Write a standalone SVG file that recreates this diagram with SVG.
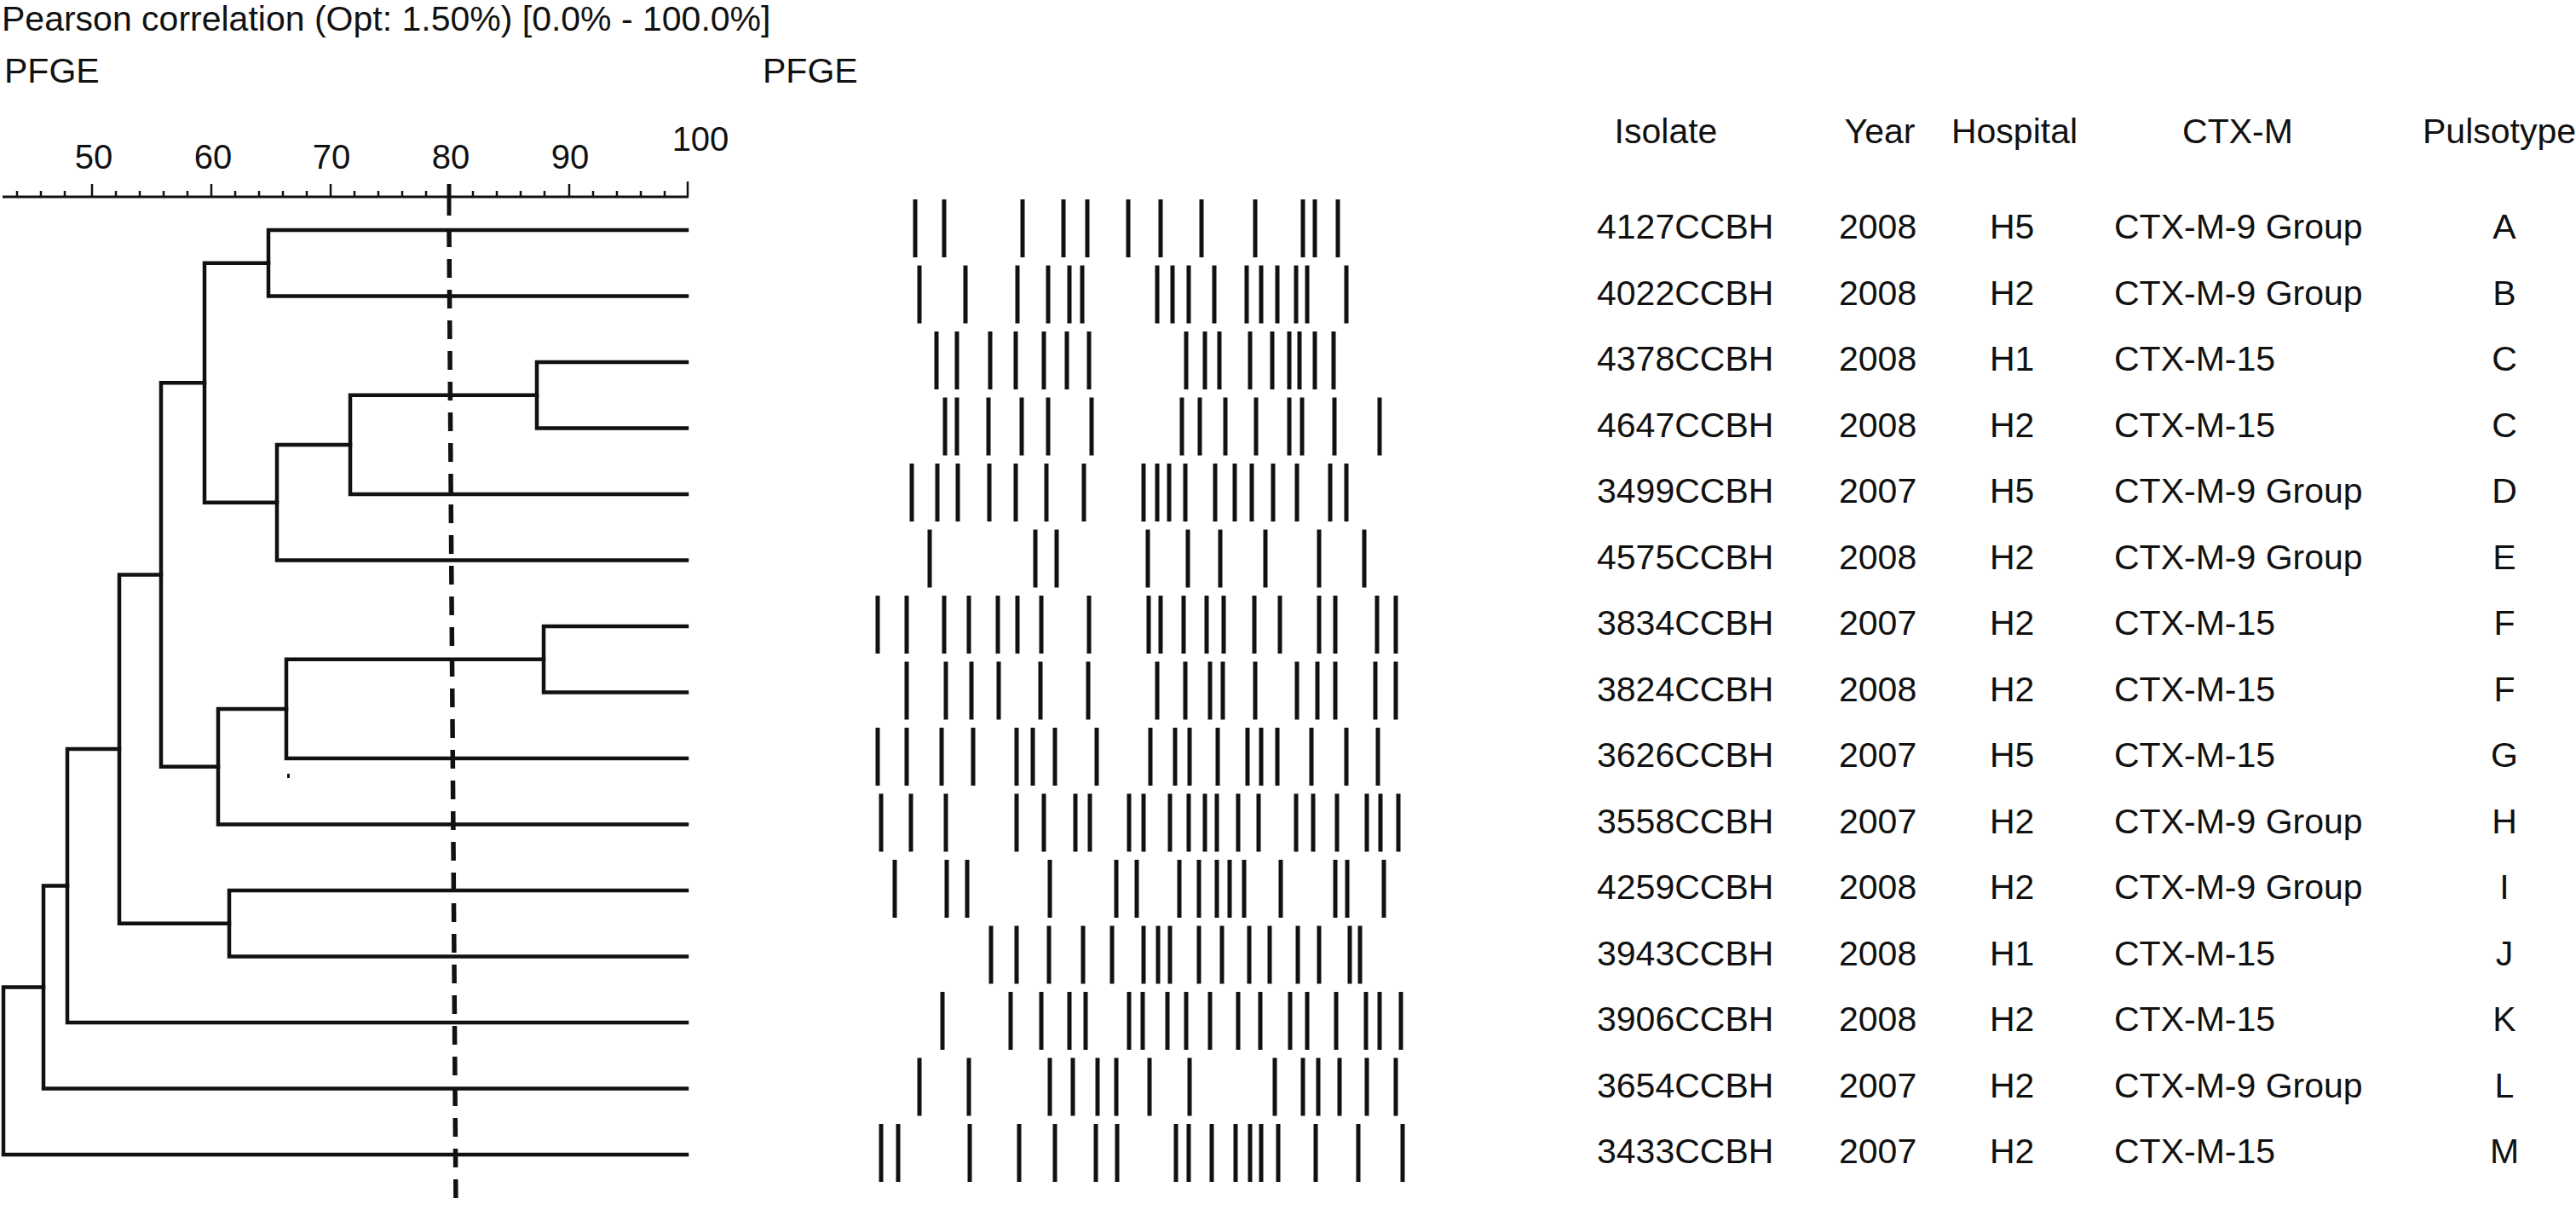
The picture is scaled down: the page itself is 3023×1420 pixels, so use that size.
<svg xmlns="http://www.w3.org/2000/svg" width="3023" height="1420" viewBox="0 0 3023 1420">
<style>
text{font-family:"Liberation Sans",Arial,Helvetica,sans-serif;fill:#111;font-size:41px}
.sc{font-size:40px}
.mid{text-anchor:middle}
.tree{fill:none;stroke:#111;stroke-width:4.5;stroke-linejoin:miter;stroke-linecap:square}
.band{fill:none;stroke:#111;stroke-width:5}
.axis{fill:none;stroke:#111;stroke-width:3}
.tick{fill:none;stroke:#111;stroke-width:2.5}
.cut{fill:none;stroke:#111;stroke-width:5.5;stroke-dasharray:22 14}
</style>
<rect width="3023" height="1420" fill="#fff"/>
<g id="header">
<text x="2" y="36">Pearson correlation (Opt: 1.50%) [0.0% - 100.0%]</text>
<text x="5" y="97">PFGE</text>
<text x="895" y="97">PFGE</text>
</g>
<g id="scale">
<text class="sc mid" x="110" y="198">50</text>
<text class="sc mid" x="250" y="198">60</text>
<text class="sc mid" x="389" y="198">70</text>
<text class="sc mid" x="529" y="198">80</text>
<text class="sc mid" x="669" y="198">90</text>
<text class="sc mid" x="822" y="177">100</text>
<path class="axis" d="M3 231H808"/>
<path class="tick" d="M20 231v-7M48 231v-7M76 231v-7M108 231v-15M136 231v-7M164 231v-7M192 231v-7M220 231v-7M248 231v-15M276 231v-7M304 231v-7M332 231v-7M360 231v-7M388 231v-15M416 231v-7M444 231v-7M472 231v-7M500 231v-7M555 231v-7M583 231v-7M611 231v-7M639 231v-7M668 231v-15M696 231v-7M724 231v-7M752 231v-7M780 231v-7M807 231v-18"/>
<path class="axis" d="M527 216V253" style="stroke-width:5"/>
<path class="cut" d="M527 268L535 1420"/>
</g>
<g id="connectors">
<path class="tree" d="M806 270H315V347.5H806"/>
<path class="tree" d="M806 425H630V502.5H806"/>
<path class="tree" d="M630 463.75H411V580H806"/>
<path class="tree" d="M411 521.9H325V657.5H806"/>
<path class="tree" d="M315 308.75H240V589.7H325"/>
<path class="tree" d="M806 735H638V812.5H806"/>
<path class="tree" d="M638 773.75H336V890H806"/>
<path class="tree" d="M336 831.9H256V967.5H806"/>
<path class="tree" d="M240 449.2H189V899.7H256"/>
<path class="tree" d="M806 1045H269V1122.5H806"/>
<path class="tree" d="M189 674.5H140V1083.75H269"/>
<path class="tree" d="M140 879.1H79V1200H806"/>
<path class="tree" d="M79 1039.6H51V1277.5H806"/>
<path class="tree" d="M51 1158.5H4V1355H806"/>
<rect x="337" y="908" width="3" height="5" fill="#111"/>
</g>
<g id="table-header">
<text class="mid" x="1955" y="168">Isolate</text>
<text class="mid" x="2206" y="168">Year</text>
<text class="mid" x="2364" y="168">Hospital</text>
<text class="mid" x="2626" y="168">CTX-M</text>
<text x="2843" y="168">Pulsotype</text>
</g>
<g id="iso-4127CCBH" transform="translate(0,280)">
<path class="band" d="M1074 -46v68M1108 -46v68M1200 -46v68M1248 -46v68M1276 -46v68M1324 -46v68M1362 -46v68M1410 -46v68M1473 -46v68M1529 -46v68M1543 -46v68M1570 -46v68"/>
<text x="1874">4127CCBH</text><text x="2158">2008</text><text x="2335">H5</text><text x="2481">CTX-M-9 Group</text><text class="mid" x="2939">A</text>
</g>
<g id="iso-4022CCBH" transform="translate(0,357.5)">
<path class="band" d="M1079 -46v68M1133 -46v68M1194 -46v68M1230 -46v68M1255 -46v68M1270 -46v68M1358 -46v68M1376 -46v68M1395 -46v68M1425 -46v68M1463 -46v68M1480 -46v68M1499 -46v68M1521 -46v68M1534 -46v68M1580 -46v68"/>
<text x="1874">4022CCBH</text><text x="2158">2008</text><text x="2335">H2</text><text x="2481">CTX-M-9 Group</text><text class="mid" x="2939">B</text>
</g>
<g id="iso-4378CCBH" transform="translate(0,435)">
<path class="band" d="M1099 -46v68M1123 -46v68M1162 -46v68M1192 -46v68M1225 -46v68M1252 -46v68M1278 -46v68M1392 -46v68M1414 -46v68M1431 -46v68M1467 -46v68M1493 -46v68M1513 -46v68M1525 -46v68M1543 -46v68M1565 -46v68"/>
<text x="1874">4378CCBH</text><text x="2158">2008</text><text x="2335">H1</text><text x="2481">CTX-M-15</text><text class="mid" x="2939">C</text>
</g>
<g id="iso-4647CCBH" transform="translate(0,512.5)">
<path class="band" d="M1109 -46v68M1123 -46v68M1160 -46v68M1199 -46v68M1230 -46v68M1281 -46v68M1387 -46v68M1408 -46v68M1438 -46v68M1474 -46v68M1513 -46v68M1528 -46v68M1566 -46v68M1619 -46v68"/>
<text x="1874">4647CCBH</text><text x="2158">2008</text><text x="2335">H2</text><text x="2481">CTX-M-15</text><text class="mid" x="2939">C</text>
</g>
<g id="iso-3499CCBH" transform="translate(0,590)">
<path class="band" d="M1070 -46v68M1100 -46v68M1124 -46v68M1161 -46v68M1192 -46v68M1228 -46v68M1272 -46v68M1342 -46v68M1358 -46v68M1372 -46v68M1391 -46v68M1426 -46v68M1449 -46v68M1469 -46v68M1494 -46v68M1522 -46v68M1561 -46v68M1580 -46v68"/>
<text x="1874">3499CCBH</text><text x="2158">2007</text><text x="2335">H5</text><text x="2481">CTX-M-9 Group</text><text class="mid" x="2939">D</text>
</g>
<g id="iso-4575CCBH" transform="translate(0,667.5)">
<path class="band" d="M1091 -46v68M1215 -46v68M1240 -46v68M1347 -46v68M1394 -46v68M1432 -46v68M1485 -46v68M1548 -46v68M1601 -46v68"/>
<text x="1874">4575CCBH</text><text x="2158">2008</text><text x="2335">H2</text><text x="2481">CTX-M-9 Group</text><text class="mid" x="2939">E</text>
</g>
<g id="iso-3834CCBH" transform="translate(0,745)">
<path class="band" d="M1030 -46v68M1064 -46v68M1108 -46v68M1137 -46v68M1171 -46v68M1194 -46v68M1222 -46v68M1278 -46v68M1348 -46v68M1362 -46v68M1389 -46v68M1416 -46v68M1436 -46v68M1472 -46v68M1502 -46v68M1548 -46v68M1567 -46v68M1616 -46v68M1638 -46v68"/>
<text x="1874">3834CCBH</text><text x="2158">2007</text><text x="2335">H2</text><text x="2481">CTX-M-15</text><text class="mid" x="2939">F</text>
</g>
<g id="iso-3824CCBH" transform="translate(0,822.5)">
<path class="band" d="M1064 -46v68M1110 -46v68M1140 -46v68M1172 -46v68M1221 -46v68M1277 -46v68M1358 -46v68M1391 -46v68M1420 -46v68M1435 -46v68M1473 -46v68M1522 -46v68M1546 -46v68M1567 -46v68M1614 -46v68M1638 -46v68"/>
<text x="1874">3824CCBH</text><text x="2158">2008</text><text x="2335">H2</text><text x="2481">CTX-M-15</text><text class="mid" x="2939">F</text>
</g>
<g id="iso-3626CCBH" transform="translate(0,900)">
<path class="band" d="M1030 -46v68M1064 -46v68M1105 -46v68M1142 -46v68M1193 -46v68M1212 -46v68M1238 -46v68M1287 -46v68M1350 -46v68M1379 -46v68M1396 -46v68M1429 -46v68M1464 -46v68M1480 -46v68M1499 -46v68M1539 -46v68M1580 -46v68M1617 -46v68"/>
<text x="1874">3626CCBH</text><text x="2158">2007</text><text x="2335">H5</text><text x="2481">CTX-M-15</text><text class="mid" x="2939">G</text>
</g>
<g id="iso-3558CCBH" transform="translate(0,977.5)">
<path class="band" d="M1034 -46v68M1069 -46v68M1110 -46v68M1193 -46v68M1225 -46v68M1262 -46v68M1279 -46v68M1325 -46v68M1342 -46v68M1373 -46v68M1395 -46v68M1414 -46v68M1428 -46v68M1453 -46v68M1477 -46v68M1521 -46v68M1541 -46v68M1569 -46v68M1604 -46v68M1620 -46v68M1641 -46v68"/>
<text x="1874">3558CCBH</text><text x="2158">2007</text><text x="2335">H2</text><text x="2481">CTX-M-9 Group</text><text class="mid" x="2939">H</text>
</g>
<g id="iso-4259CCBH" transform="translate(0,1055)">
<path class="band" d="M1050 -46v68M1111 -46v68M1135 -46v68M1232 -46v68M1310 -46v68M1334 -46v68M1384 -46v68M1407 -46v68M1428 -46v68M1443 -46v68M1460 -46v68M1503 -46v68M1567 -46v68M1581 -46v68M1624 -46v68"/>
<text x="1874">4259CCBH</text><text x="2158">2008</text><text x="2335">H2</text><text x="2481">CTX-M-9 Group</text><text class="mid" x="2939">I</text>
</g>
<g id="iso-3943CCBH" transform="translate(0,1132.5)">
<path class="band" d="M1163 -46v68M1193 -46v68M1231 -46v68M1271 -46v68M1305 -46v68M1342 -46v68M1359 -46v68M1373 -46v68M1407 -46v68M1434 -46v68M1466 -46v68M1490 -46v68M1523 -46v68M1548 -46v68M1584 -46v68M1596 -46v68"/>
<text x="1874">3943CCBH</text><text x="2158">2008</text><text x="2335">H1</text><text x="2481">CTX-M-15</text><text class="mid" x="2939">J</text>
</g>
<g id="iso-3906CCBH" transform="translate(0,1210)">
<path class="band" d="M1106 -46v68M1186 -46v68M1222 -46v68M1255 -46v68M1274 -46v68M1325 -46v68M1341 -46v68M1370 -46v68M1392 -46v68M1420 -46v68M1453 -46v68M1479 -46v68M1514 -46v68M1534 -46v68M1568 -46v68M1603 -46v68M1619 -46v68M1644 -46v68"/>
<text x="1874">3906CCBH</text><text x="2158">2008</text><text x="2335">H2</text><text x="2481">CTX-M-15</text><text class="mid" x="2939">K</text>
</g>
<g id="iso-3654CCBH" transform="translate(0,1287.5)">
<path class="band" d="M1079 -46v68M1137 -46v68M1232 -46v68M1259 -46v68M1288 -46v68M1310 -46v68M1349 -46v68M1396 -46v68M1496 -46v68M1529 -46v68M1547 -46v68M1572 -46v68M1604 -46v68M1638 -46v68"/>
<text x="1874">3654CCBH</text><text x="2158">2007</text><text x="2335">H2</text><text x="2481">CTX-M-9 Group</text><text class="mid" x="2939">L</text>
</g>
<g id="iso-3433CCBH" transform="translate(0,1365)">
<path class="band" d="M1034 -46v68M1054 -46v68M1138 -46v68M1196 -46v68M1238 -46v68M1286 -46v68M1311 -46v68M1380 -46v68M1395 -46v68M1422 -46v68M1450 -46v68M1467 -46v68M1480 -46v68M1500 -46v68M1544 -46v68M1594 -46v68M1646 -46v68"/>
<text x="1874">3433CCBH</text><text x="2158">2007</text><text x="2335">H2</text><text x="2481">CTX-M-15</text><text class="mid" x="2939">M</text>
</g>
</svg>
